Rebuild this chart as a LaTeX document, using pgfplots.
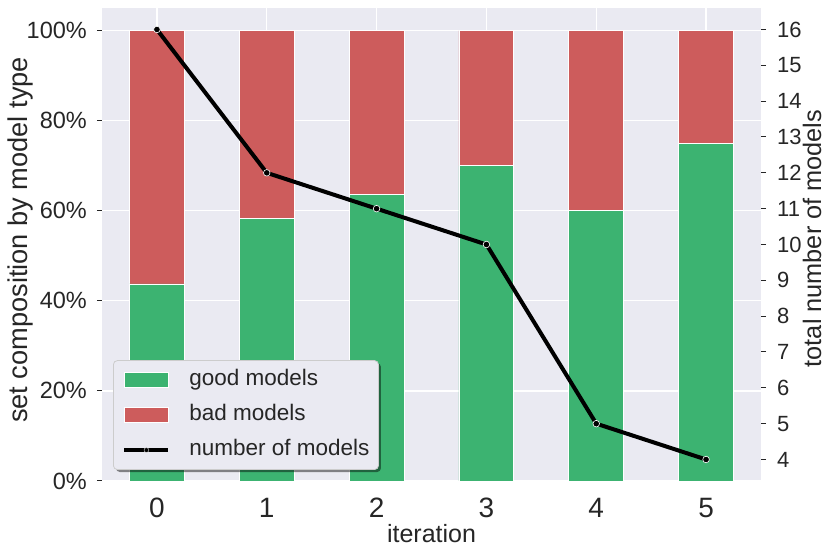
\documentclass[border=0pt]{standalone}
\usepackage{fontspec}
\setmainfont{Liberation Sans}
\usepackage{pgfplots}
\pgfplotsset{compat=1.18}
\usetikzlibrary{shadows}
\definecolor{good}{HTML}{3CB371}
\definecolor{bad}{HTML}{CD5C5C}
\definecolor{bg}{HTML}{EAEAF2}
\definecolor{txt}{HTML}{262626}
\definecolor{legedge}{HTML}{CCCCCC}
\newcommand{\boxlegend}[1]{%
  \pgfsetcornersarced{\pgfpointorigin}%
  \pgfsetfillcolor{#1}%
  \pgfpathrectangle{\pgfpoint{0pt}{-7.5pt}}{\pgfpoint{44pt}{15pt}}\pgfusepath{fill}%
  \pgfsetstrokecolor{white}\pgfsetlinewidth{0.8pt}%
  \pgfpathrectangle{\pgfpoint{0pt}{-7.5pt}}{\pgfpoint{44pt}{15pt}}\pgfusepath{stroke}}
\newcommand{\linelegend}{%
  \pgfsetcornersarced{\pgfpointorigin}%
  \pgfsetstrokecolor{black}\pgfsetlinewidth{4pt}\pgfsetbuttcap
  \pgfpathmoveto{\pgfpoint{0pt}{0pt}}\pgfpathlineto{\pgfpoint{44pt}{0pt}}\pgfusepath{stroke}%
  \pgfsetfillcolor{black}\pgfsetstrokecolor{white}\pgfsetlinewidth{0.3pt}%
  \pgfpathcircle{\pgfpoint{22pt}{0pt}}{2.4pt}\pgfusepath{fill,stroke}}
\pgfplotsset{
  goodlegend/.style={legend image code/.code={\boxlegend{good}}},
  badlegend/.style={legend image code/.code={\boxlegend{bad}}},
  linelegendstyle/.style={legend image code/.code={\linelegend}},
}
\begin{document}
\begin{tikzpicture}
\path[use as bounding box] (-102pt,-75pt) rectangle (728pt,481pt);
\begin{axis}[
  scale only axis, width=659pt, height=473pt,
  xmin=-0.5, xmax=5.5, ymin=0, ymax=105,
  axis background/.style={fill=bg},
  axis line style={draw=none},
  xtick={0,1,2,3,4,5}, xticklabels={0,1,2,3,4,5},
  ytick={0,20,40,60,80,100}, yticklabels={0\%,20\%,40\%,60\%,80\%,100\%},
  ytick pos=left, xtick pos=bottom,
  xtick style={draw=none},
  ytick style={draw=txt, line width=1pt},
  major tick length=5pt, tick align=outside,
  grid=major, grid style={white, line width=1.3pt},
  xticklabel style={font=\fontsize{28}{30}\selectfont, text=txt, inner sep=0pt, anchor=north, yshift=-12pt},
  yticklabel style={font=\fontsize{23.5}{25}\selectfont, text=txt, inner sep=0pt, anchor=east, xshift=-10pt},
  ybar stacked, bar width=0.5,
  xlabel={iteration},
  xlabel style={at={(axis description cs:0.5,-0.131)}, anchor=base, font=\fontsize{25}{27}\selectfont, text=txt},
  ylabel={set composition by model type},
  ylabel style={at={(axis description cs:-0.1244,0.5095)}, anchor=center, font=\fontsize{27.2}{29}\selectfont, text=txt},
]
\addplot[fill=good, draw=white, line width=0.8pt] coordinates {(0,43.75) (1,58.333) (2,63.636) (3,70) (4,60) (5,75)};
\addplot[fill=bad, draw=white, line width=0.8pt] coordinates {(0,56.25) (1,41.667) (2,36.364) (3,30) (4,40) (5,25)};
\end{axis}
\begin{axis}[
  scale only axis, width=659pt, height=473pt,
  xmin=-0.5, xmax=5.5, ymin=3.4, ymax=16.6,
  axis x line=none, axis y line*=right,
  axis line style={draw=none},
  ytick={4,5,6,7,8,9,10,11,12,13,14,15,16},
  ytick style={draw=txt, line width=1pt},
  major tick length=5pt, tick align=outside,
  /pgf/number format/assume math mode=true,
  yticklabel style={font=\fontsize{22}{24}\selectfont, text=txt, inner sep=0pt, anchor=west, xshift=11pt},
  ylabel={total number of models},
  ylabel style={at={(axis description cs:1.0774,0.5127)}, anchor=center, font=\fontsize{25.3}{27}\selectfont, text=txt},
  legend style={at={(0.0167,0.0233)}, anchor=south west, fill=bg, draw=legedge, line width=0.8pt,
    rounded corners=4pt, drop shadow={shadow xshift=2.5pt, shadow yshift=-2.5pt, fill=black, opacity=0.45},
    font=\fontsize{22.5}{24}\selectfont, text=txt, inner xsep=9pt, inner ysep=9pt,
    row sep=14pt, column sep=19pt,
    nodes={inner sep=0pt, text height=16pt, text depth=5pt}},
  legend cell align=left,
]
\addlegendimage{goodlegend}
\addlegendentry{good models}
\addlegendimage{badlegend}
\addlegendentry{bad models}
\addplot[black, line width=4pt, mark=*, mark size=3.3pt, mark options={fill=black, draw=white, line width=0.6pt}, linelegendstyle]
  coordinates {(0,16) (1,12) (2,11) (3,10) (4,5) (5,4)};
\addlegendentry{number of models}
\end{axis}
\end{tikzpicture}
\end{document}
